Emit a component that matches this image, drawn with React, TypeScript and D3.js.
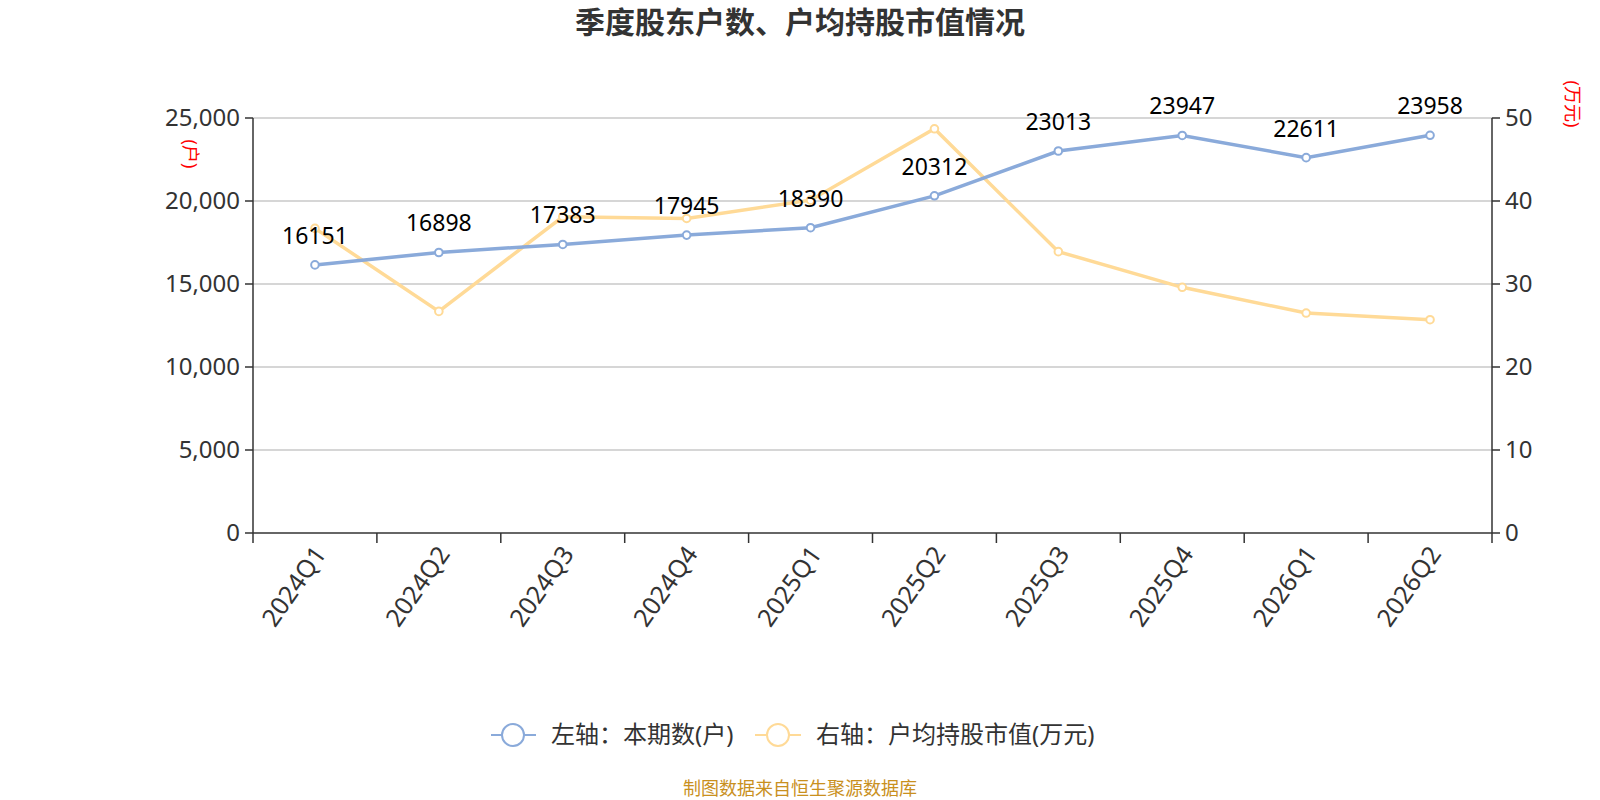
import * as d3 from "d3";

const quarters = ["2024Q1", "2024Q2", "2024Q3", "2024Q4", "2025Q1", "2025Q2", "2025Q3", "2025Q4", "2026Q1", "2026Q2"];
const holders = [16151, 16898, 17383, 17945, 18390, 20312, 23013, 23947, 22611, 23958];
const avgValue = [36.7, 26.7, 38.1, 37.9, 40.1, 48.7, 33.9, 29.6, 26.5, 25.7];
const leftTicks = [0, 5000, 10000, 15000, 20000, 25000];
const rightTicks = [0, 10, 20, 30, 40, 50];

const W = 1600;
const H = 800;
const margin = { left: 253, right: 108, top: 118, bottom: 267 };
const blue = "#8aaada";
const orange = "#ffda97";
const font = "'Noto Sans', 'Noto Sans CJK SC', sans-serif";

export default function App() {
    const x = d3.scaleBand<string>().domain(quarters).range([margin.left, W - margin.right]);
    const yL = d3.scaleLinear().domain([0, 25000]).range([H - margin.bottom, margin.top]);
    const yR = d3.scaleLinear().domain([0, 50]).range([H - margin.bottom, margin.top]);
    const cx = (q: string) => (x(q) as number) + x.bandwidth() / 2;
    const x0 = margin.left;
    const x1 = W - margin.right;
    const yBase = H - margin.bottom;

    const lineL = d3.line<number>().x((_, i) => cx(quarters[i])).y(d => yL(d));
    const lineR = d3.line<number>().x((_, i) => cx(quarters[i])).y(d => yR(d));

    // tick positions at band boundaries
    const bounds = quarters.map(q => x(q) as number).concat([x1]);

    return (
        <div style={{ position: "fixed", left: 0, top: 0 }}>
            <svg width={W} height={H} style={{ display: "block", background: "#fff" }} fontFamily={font}>
                {/* title */}
                <text x={800} y={33} textAnchor="middle" fontSize={30} fontWeight="bold" fill="#333">
                    季度股东户数、户均持股市值情况
                </text>

                {/* grid */}
                {leftTicks.slice(1).map(t => (
                    <line key={t} x1={x0} x2={x1} y1={yL(t)} y2={yL(t)} stroke="#c8c8c8" strokeWidth={1.5} />
                ))}

                {/* left axis */}
                <line x1={x0} x2={x0} y1={margin.top} y2={yBase} stroke="#333" strokeWidth={1.5} />
                {leftTicks.map(t => (
                    <g key={t}>
                        <line x1={x0 - 8} x2={x0} y1={yL(t)} y2={yL(t)} stroke="#333" strokeWidth={1.5} />
                        <text x={x0 - 13} y={yL(t)} dy="0.35em" textAnchor="end" fontSize={24} fill="#333">
                            {d3.format(",")(t)}
                        </text>
                    </g>
                ))}
                <text transform={`translate(190,154) rotate(90)`} textAnchor="middle" dy="0.35em" fontSize={18} fill="red">(户)</text>

                {/* right axis */}
                <line x1={x1} x2={x1} y1={margin.top} y2={yBase} stroke="#333" strokeWidth={1.5} />
                {rightTicks.map(t => (
                    <g key={t}>
                        <line x1={x1} x2={x1 + 8} y1={yR(t)} y2={yR(t)} stroke="#333" strokeWidth={1.5} />
                        <text x={x1 + 13} y={yR(t)} dy="0.35em" fontSize={24} fill="#333">{t}</text>
                    </g>
                ))}
                <text transform={`translate(1572,104) rotate(90)`} textAnchor="middle" dy="0.35em" fontSize={18} fill="red">(万元)</text>

                {/* x axis */}
                <line x1={x0} x2={x1} y1={yBase} y2={yBase} stroke="#333" strokeWidth={1.5} />
                {bounds.map((b, i) => (
                    <line key={i} x1={b} x2={b} y1={yBase} y2={yBase + 10} stroke="#333" strokeWidth={1.5} />
                ))}
                {quarters.map(q => (
                    <text key={q} transform={`translate(${cx(q) + 5},${yBase + 16}) rotate(-55)`} textAnchor="end" dy="0.35em" fontSize={25} fill="#333">
                        {q}
                    </text>
                ))}

                {/* series */}
                <path d={lineR(avgValue) as string} fill="none" stroke={orange} strokeWidth={3.5} />
                <path d={lineL(holders) as string} fill="none" stroke={blue} strokeWidth={3.5} />
                {avgValue.map((v, i) => (
                    <circle key={i} cx={cx(quarters[i])} cy={yR(v)} r={3.8} fill="#fff" stroke={orange} strokeWidth={2} />
                ))}
                {holders.map((v, i) => (
                    <circle key={i} cx={cx(quarters[i])} cy={yL(v)} r={3.8} fill="#fff" stroke={blue} strokeWidth={2} />
                ))}
                {holders.map((v, i) => (
                    <text key={i} x={cx(quarters[i])} y={yL(v) - 21} textAnchor="middle" fontSize={23} fill="#000">{v}</text>
                ))}

                {/* legend */}
                <line x1={491} x2={536} y1={735} y2={735} stroke={blue} strokeWidth={2} />
                <circle cx={513} cy={735} r={11} fill="#fff" stroke={blue} strokeWidth={2} />
                <text x={551} y={735} dy="0.35em" fontSize={24} fill="#333">左轴：本期数(户)</text>
                <line x1={755} x2={801} y1={735} y2={735} stroke={orange} strokeWidth={2} />
                <circle cx={778} cy={735} r={11} fill="#fff" stroke={orange} strokeWidth={2} />
                <text x={816} y={735} dy="0.35em" fontSize={24} fill="#333">右轴：户均持股市值(万元)</text>

                {/* source */}
                <text x={800} y={795} textAnchor="middle" fontSize={18} fill="#c9901e">制图数据来自恒生聚源数据库</text>
            </svg>
        </div>
    );
}
